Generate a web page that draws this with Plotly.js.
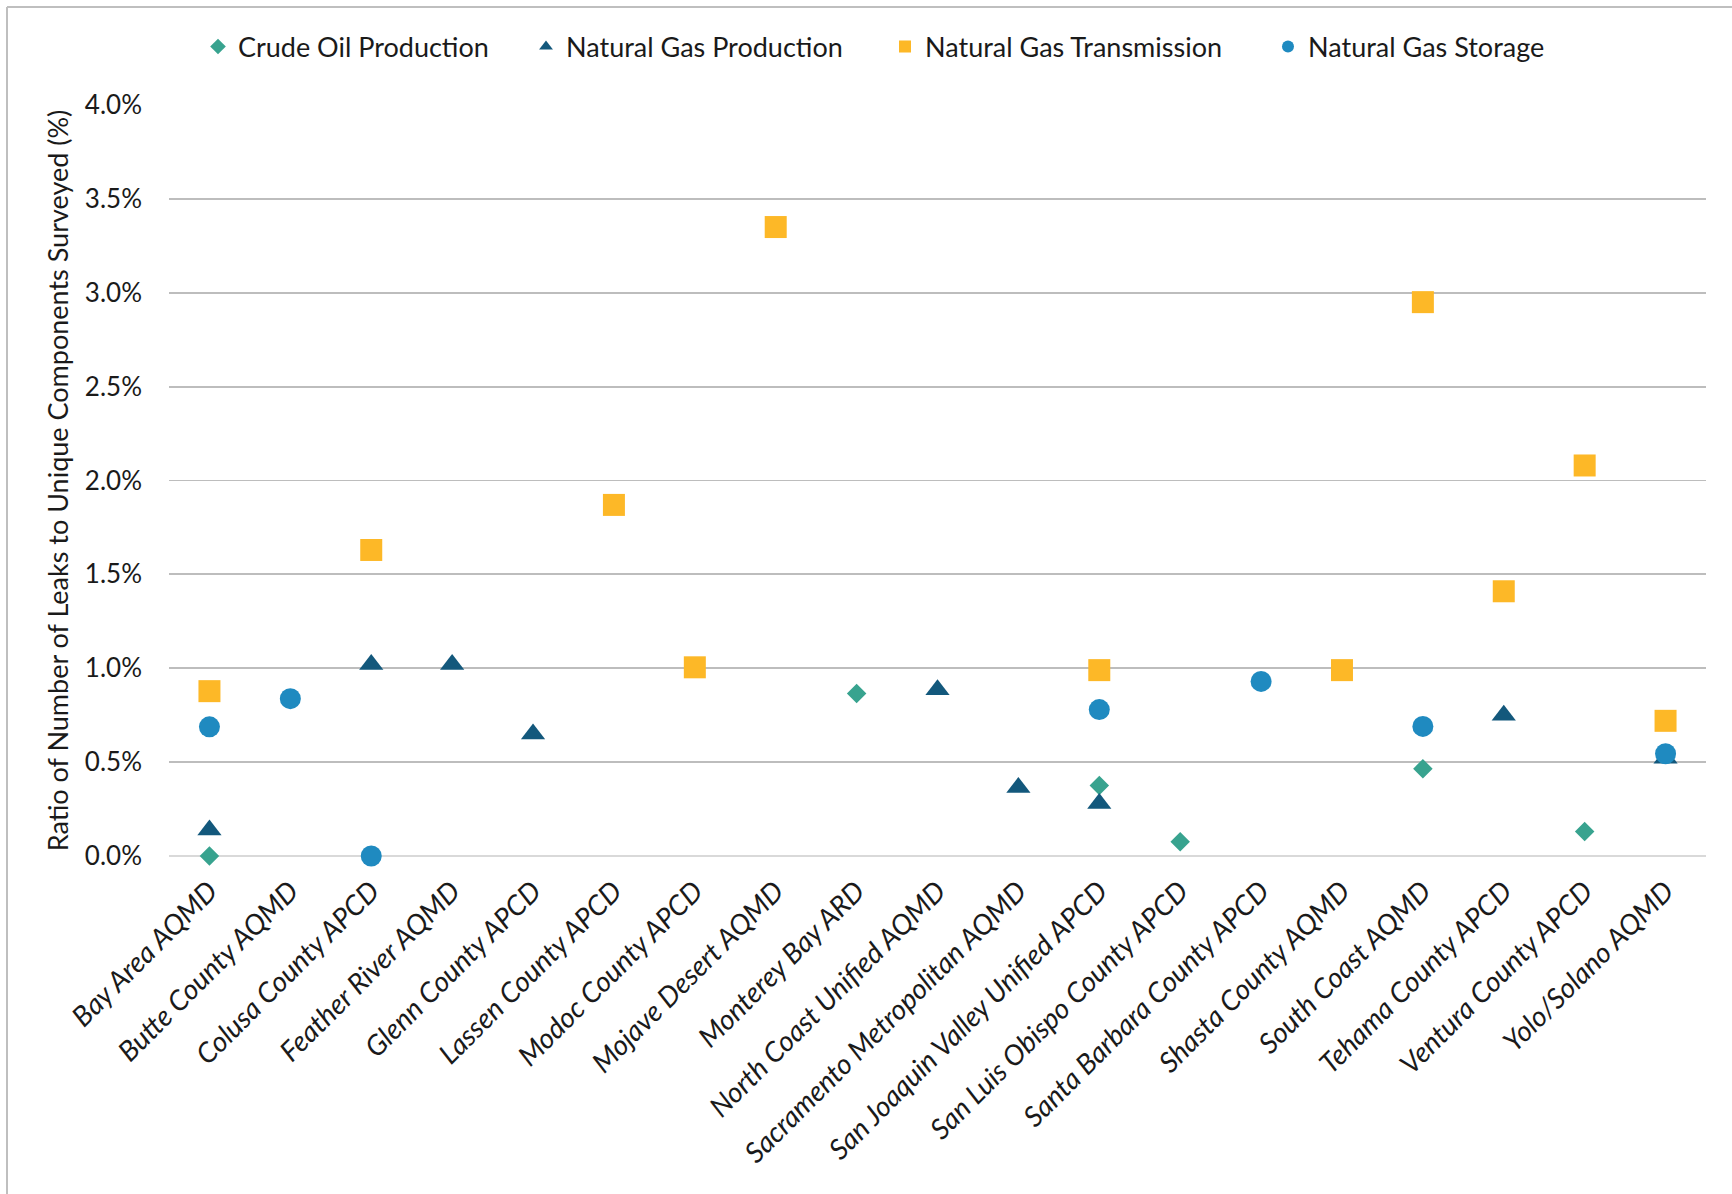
<!DOCTYPE html>
<html>
<head>
<meta charset="utf-8">
<script src="https://cdn.plot.ly/plotly-3.0.1.min.js"></script>
<style>
  html, body { margin: 0; padding: 0; background: #ffffff; }
  #chart { width: 1732px; height: 1194px; }
</style>
</head>
<body>
<div id="chart"></div>
<script>
const districts = [
  "Bay Area AQMD", "Butte County AQMD", "Colusa County APCD", "Feather River AQMD",
  "Glenn County APCD", "Lassen County APCD", "Modoc County APCD", "Mojave Desert AQMD",
  "Monterey Bay ARD", "North Coast Unified AQMD", "Sacramento Metropolitan AQMD",
  "San Joaquin Valley Unified APCD", "San Luis Obispo County APCD", "Santa Barbara County APCD",
  "Shasta County AQMD", "South Coast AQMD", "Tehama County APCD", "Ventura County APCD",
  "Yolo/Solano AQMD"
];

const crudeOilProduction = [0.00, null, null, null, null, null, null, null, 0.865, null, null, 0.375, 0.076, null, null, 0.465, null, 0.13, null];
const naturalGasProduction = [0.138, null, 1.02, 1.02, 0.65, null, null, null, null, 0.885, 0.365, 0.28, null, null, null, null, 0.75, null, 0.52];
const naturalGasTransmission = [0.878, null, 1.63, null, null, 1.87, 1.005, 3.35, null, null, null, 0.99, null, null, 0.99, 2.95, 1.41, 2.08, 0.72];
const naturalGasStorage = [0.688, 0.838, 0.00, null, null, null, null, null, null, null, null, 0.78, null, 0.93, null, 0.69, null, null, 0.545];

const seriesNames = ["Crude Oil Production", "Natural Gas Production", "Natural Gas Transmission", "Natural Gas Storage"];
const yTickValues = [0, 0.5, 1, 1.5, 2, 2.5, 3, 3.5, 4];
const yTickLabels = ["0.0%", "0.5%", "1.0%", "1.5%", "2.0%", "2.5%", "3.0%", "3.5%", "4.0%"];

const FONT = "Lato, 'Open Sans', sans-serif";

const traces = [
  {
    name: seriesNames[0], x: districts, y: crudeOilProduction, type: "scatter", mode: "markers",
    marker: { symbol: "diamond", size: 15, color: "#38A38F" }, legend: "legend", cliponaxis: false
  },
  {
    name: seriesNames[1], x: districts, y: naturalGasProduction, type: "scatter", mode: "markers",
    marker: { symbol: "triangle-up", size: 21, color: "#13587C" }, legend: "legend2", cliponaxis: false
  },
  {
    name: seriesNames[2], x: districts, y: naturalGasTransmission, type: "scatter", mode: "markers",
    marker: { symbol: "square", size: 22, color: "#FDB827" }, legend: "legend3", cliponaxis: false
  },
  {
    name: seriesNames[3], x: districts, y: naturalGasStorage, type: "scatter", mode: "markers",
    marker: { symbol: "circle", size: 21, color: "#1F8AC0" }, legend: "legend4", cliponaxis: false
  }
];

const L = 169, R = 26, T = 105, B = 338, W = 1732, H = 1194;
const pw = W - L - R, ph = H - T - B;
function px2x(p) { return (p - L) / pw; }
function py2y(p) { return (H - B - p) / ph; }

function legendAt(symbolCenterPx) {
  return {
    orientation: "h", x: px2x(symbolCenterPx - 21), xanchor: "left",
    y: py2y(47), yanchor: "middle", bgcolor: "rgba(0,0,0,0)",
    font: { family: FONT, size: 27, color: "#1a1a1a" },
    itemsizing: "constant"
  };
}

const layout = {
  width: W, height: H,
  margin: { l: L, r: R, t: T, b: B },
  paper_bgcolor: "#ffffff", plot_bgcolor: "#ffffff",
  showlegend: true,
  legend: legendAt(219),
  legend2: legendAt(547),
  legend3: legendAt(906),
  legend4: legendAt(1289),
  xaxis: {
    type: "category", categoryorder: "array", categoryarray: districts,
    range: [-0.5, districts.length - 0.5],
    showgrid: false, zeroline: false, showline: false, ticks: "",
    tickangle: -45, ticklabelstandoff: 12,
    tickfont: { family: FONT, size: 28, color: "#1a1a1a", style: "italic" }
  },
  yaxis: {
    range: [0, 4], tickmode: "array", tickvals: yTickValues, ticktext: yTickLabels,
    showgrid: true, gridcolor: "#BDBDBD", gridwidth: 1.8,
    zeroline: true, zerolinecolor: "#D9D9D9", zerolinewidth: 2,
    showline: false, ticks: "", ticklabelstandoff: 26,
    tickfont: { family: FONT, size: 26, color: "#1a1a1a" },
    title: { text: "Ratio of Number of Leaks to Unique Components Surveyed (%)", standoff: 8,
             font: { family: FONT, size: 27, color: "#1a1a1a" } }
  },
  shapes: [
    { type: "line", xref: "paper", yref: "paper", x0: px2x(7), x1: px2x(7), y0: py2y(7), y1: py2y(H + 20),
      line: { color: "#BFBFBF", width: 2 } },
    { type: "line", xref: "paper", yref: "paper", x0: px2x(7), x1: px2x(W + 20), y0: py2y(7), y1: py2y(7),
      line: { color: "#BFBFBF", width: 2 } }
  ]
};

Plotly.newPlot("chart", traces, layout, { displayModeBar: false, staticPlot: true });
</script>
</body>
</html>
